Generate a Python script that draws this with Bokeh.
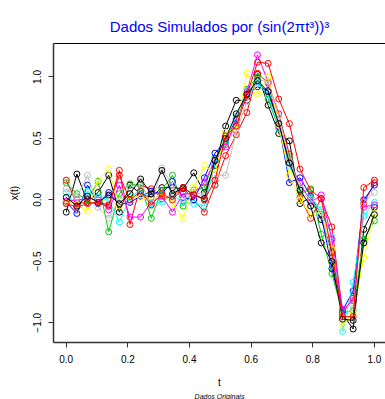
from bokeh.plotting import figure
from bokeh.models import Range1d, FixedTicker, Title, LinearAxis
from bokeh.embed import file_html
from bokeh.resources import INLINE

# time grid (30 equally spaced points from 0 to 1)
t = [0.0, 0.0345, 0.069, 0.1034, 0.1379, 0.1724, 0.2069, 0.2414, 0.2759, 0.3103,
     0.3448, 0.3793, 0.4138, 0.4483, 0.4828, 0.5172, 0.5517, 0.5862, 0.6207, 0.6552,
     0.6897, 0.7241, 0.7586, 0.7931, 0.8276, 0.8621, 0.8966, 0.931, 0.9655, 1.0]

s_black1 = [-0.10, 0.21, -0.02, 0.06, 0.20, -0.10, 0.12, 0.05, 0.02, 0.10,
            0.10, 0.09, 0.22, 0.06, 0.28, 0.60, 0.81, 0.81, 1.02, 0.77,
            0.54, 0.48, -0.03, 0.02, -0.16, -0.42, -0.93, -1.05, -0.24, -0.06]
s_red1 = [0.16, -0.03, -0.02, -0.03, -0.05, 0.24, -0.20, 0.12, 0.09, 0.01,
          0.03, 0.10, 0.00, -0.10, 0.12, 0.36, 0.53, 0.71, 1.03, 0.95,
          0.70, 0.37, 0.02, -0.15, 0.01, -0.22, -0.92, -0.80, -0.03, 0.14]
s_green = [0.14, 0.05, 0.00, 0.15, -0.26, 0.05, 0.13, 0.12, -0.15, 0.08,
           0.20, -0.05, 0.08, 0.10, 0.34, 0.45, 0.62, 0.90, 1.00, 0.82,
           0.58, 0.35, 0.05, 0.09, -0.28, -0.60, -0.92, -0.90, -0.32, -0.17]
s_blue = [-0.02, -0.11, 0.12, -0.03, 0.06, -0.04, -0.02, 0.03, 0.07, 0.05,
          0.15, 0.02, 0.00, 0.18, 0.38, 0.48, 0.66, 0.86, 0.92, 0.89,
          0.62, 0.14, 0.18, 0.03, -0.12, -0.56, -0.90, -0.74, 0.00, 0.12]
s_cyan = [0.06, -0.06, 0.07, 0.02, 0.00, -0.18, 0.02, 0.08, -0.03, -0.02,
          0.04, -0.02, -0.03, -0.05, 0.30, 0.48, 0.68, 0.89, 0.95, 0.85,
          0.58, 0.28, 0.10, 0.02, -0.08, -0.30, -1.07, -0.67, -0.13, -0.02]
s_magenta = [-0.01, 0.00, 0.01, 0.00, -0.08, 0.12, -0.14, -0.14, -0.02, 0.03,
             -0.10, 0.05, 0.05, 0.14, 0.32, 0.43, 0.65, 0.88, 1.18, 0.96,
             0.60, 0.30, 0.14, -0.02, 0.04, -0.32, -0.89, -0.82, -0.06, -0.04]
s_yellow = [-0.02, -0.04, -0.09, 0.16, 0.25, -0.05, 0.03, 0.02, 0.00, 0.05,
            -0.03, -0.15, 0.10, 0.28, 0.22, 0.55, 0.58, 1.03, 0.86, 1.00,
            0.61, 0.20, 0.00, -0.12, -0.10, -0.40, -1.02, -0.92, -0.47, -0.11]
s_gray = [0.09, 0.02, 0.20, -0.06, -0.15, 0.00, 0.10, 0.15, -0.05, 0.26,
          0.12, 0.00, 0.06, 0.04, 0.20, 0.20, 0.55, 0.80, 0.98, 0.96,
          0.68, 0.32, 0.10, 0.00, -0.10, -0.48, -0.95, -0.88, -0.02, 0.06]
s_black2 = [0.02, -0.05, 0.03, -0.02, 0.04, -0.03, 0.05, 0.17, 0.05, 0.24,
            0.05, 0.10, 0.04, 0.01, 0.32, 0.50, 0.70, 0.86, 0.97, 0.88,
            0.62, 0.30, 0.08, -0.05, -0.35, -0.50, -0.97, -0.98, -0.35, -0.12]
s_red2 = [-0.03, -0.06, -0.03, -0.02, -0.04, 0.20, 0.00, 0.07, -0.04, 0.05,
          0.00, 0.10, 0.04, 0.00, 0.16, 0.52, 0.60, 0.85, 1.12, 1.11,
          0.82, 0.62, 0.25, 0.08, 0.01, -0.43, -0.95, -0.95, 0.10, 0.16]

series = [s_black1, s_red1, s_green, s_blue, s_cyan, s_magenta, s_yellow, s_gray, s_black2, s_red2]
colors = ["#000000", "#FF0000", "#00CD00", "#0000FF", "#00FFFF", "#FF00FF", "#FFFF00", "#BEBEBE",
          "#000000", "#FF0000"]

x_ticks = [0.0, 0.2, 0.4, 0.6, 0.8, 1.0]
x_tick_labels = ["0.0", "0.2", "0.4", "0.6", "0.8", "1.0"]
y_ticks = [-1.0, -0.5, 0.0, 0.5, 1.0]
y_tick_labels = ["\u22121.0", "\u22120.5", "0.0", "0.5", "1.0"]

FONT = "Liberation Sans"

p = figure(width=385, height=399, output_backend="svg", toolbar_location=None,
           x_range=Range1d(-0.0413, 1.036), y_range=Range1d(-1.160, 1.272),
           min_border_left=53, min_border_right=0, min_border_top=43, min_border_bottom=57)
p.background_fill_color = "white"
p.border_fill_color = "white"
p.outline_line_color = None
p.xgrid.visible = False
p.ygrid.visible = False

p.title.text = "Dados Simulados por (sin(2\u03c0t\u00b3))\u00b3"
p.title.text_color = "#0000FF"
p.title.text_font = FONT
p.title.text_font_size = "15px"
p.title.text_font_style = "normal"
p.title.align = "center"
p.title.standoff = 18

for ax in (p.xaxis[0], p.yaxis[0]):
    ax.axis_line_color = "#333333"
    ax.axis_line_width = 1.5
    ax.major_tick_line_color = "#333333"
    ax.major_tick_out = 5
    ax.major_tick_in = 0
    ax.minor_tick_line_color = None
    ax.major_label_text_font = FONT
    ax.major_label_text_font_size = "10px"
    ax.major_label_text_color = "#000000"
    ax.axis_label_text_font = FONT
    ax.axis_label_text_font_size = "10px"
    ax.axis_label_text_font_style = "normal"
    ax.axis_label_text_color = "#000000"

p.xaxis.ticker = FixedTicker(ticks=x_ticks)
p.xaxis.major_label_overrides = dict(zip(x_ticks, x_tick_labels))
p.xaxis.major_label_standoff = 7
p.xaxis.axis_label = "t"
p.xaxis.axis_label_standoff = 11

p.yaxis.ticker = FixedTicker(ticks=y_ticks)
p.yaxis.major_label_overrides = dict(zip(y_ticks, y_tick_labels))
p.yaxis.major_label_orientation = "vertical"
p.yaxis.major_label_standoff = 7
p.yaxis.axis_label = "x(t)"
p.yaxis.axis_label_standoff = 11

top_axis = LinearAxis(ticker=FixedTicker(ticks=[]), axis_line_color="#000000", axis_line_width=1,
                      major_tick_line_color=None, minor_tick_line_color=None,
                      major_label_text_font_size="0px")
p.add_layout(top_axis, "above")

for s, col in zip(series, colors):
    p.line(t, s, line_color=col, line_width=1)
    p.scatter(t, s, marker="circle", size=6, fill_color=None, line_color=col, line_width=1)

p.add_layout(Title(text="Dados Originais", text_font=FONT, text_font_size="7px",
                   text_font_style="italic", align="center", text_color="#000000",
                   standoff=0), "below")

open("out.html", "w").write(file_html(p, INLINE))
